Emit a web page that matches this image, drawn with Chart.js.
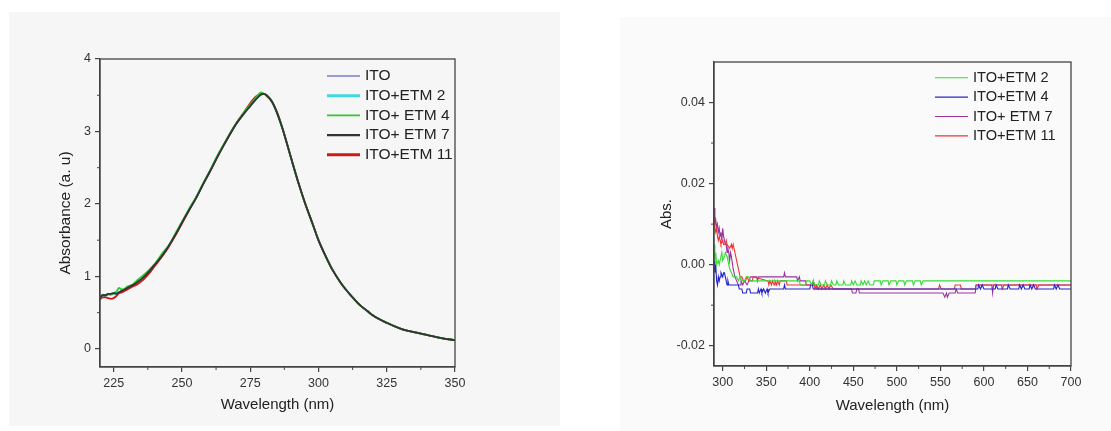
<!DOCTYPE html>
<html>
<head>
<meta charset="utf-8">
<script src="https://cdn.jsdelivr.net/npm/chart.js@4.4.1/dist/chart.umd.min.js"></script>
<style>
  html, body { margin: 0; padding: 0; background: #fff; }
  #wrap { position: relative; width: 1111px; height: 431px; overflow: hidden; }
  #leftChart { position: absolute; left: 0; top: 0; }
  #rightChart { position: absolute; left: 560px; top: 0; }
</style>
</head>
<body>
<div id="wrap">
  <canvas id="leftChart" width="560" height="431"></canvas>
  <canvas id="rightChart" width="551" height="431"></canvas>
</div>
<script>
// ---- left panel: absorbance spectra ----
const leftWavelength = [220,221,222,223,224,225,226,227,228,229,230,232,234,236,238,240,243,245,248,250,253,255,258,260,263,265,268,270,273,275,277,279,280,281,283,285,287,290,293,295,298,300,303,305,308,310,313,315,318,320,325,330,335,340,345,350];
const itoAbs   = [0.70,0.74,0.73,0.75,0.75,0.76,0.76,0.78,0.80,0.82,0.84,0.88,0.93,0.99,1.07,1.16,1.30,1.41,1.60,1.74,1.94,2.07,2.29,2.43,2.65,2.79,2.99,3.11,3.26,3.35,3.44,3.51,3.52,3.50,3.41,3.24,3.02,2.63,2.25,2.02,1.71,1.50,1.25,1.10,0.92,0.82,0.69,0.61,0.52,0.46,0.36,0.28,0.23,0.19,0.15,0.12];
const etm2Abs  = [0.70,0.74,0.73,0.75,0.75,0.76,0.77,0.78,0.80,0.82,0.84,0.88,0.93,0.99,1.07,1.16,1.30,1.41,1.60,1.74,1.94,2.07,2.29,2.43,2.65,2.79,2.99,3.11,3.26,3.35,3.44,3.51,3.52,3.50,3.41,3.24,3.02,2.63,2.25,2.02,1.71,1.50,1.25,1.10,0.92,0.82,0.69,0.61,0.52,0.46,0.36,0.28,0.23,0.19,0.15,0.12];
const etm4Abs  = [0.72,0.75,0.74,0.76,0.75,0.77,0.79,0.84,0.82,0.83,0.86,0.89,0.96,1.02,1.09,1.17,1.33,1.42,1.62,1.75,1.96,2.08,2.30,2.44,2.67,2.80,3.00,3.12,3.28,3.37,3.46,3.54,3.52,3.50,3.41,3.24,3.02,2.63,2.25,2.02,1.71,1.50,1.25,1.10,0.92,0.82,0.69,0.61,0.52,0.46,0.36,0.28,0.23,0.19,0.15,0.12];
const etm7Abs  = [0.71,0.74,0.74,0.76,0.76,0.77,0.76,0.78,0.80,0.82,0.84,0.88,0.93,0.99,1.07,1.16,1.30,1.41,1.60,1.74,1.94,2.07,2.29,2.43,2.65,2.79,2.99,3.11,3.26,3.35,3.44,3.51,3.52,3.50,3.41,3.24,3.02,2.63,2.25,2.02,1.71,1.50,1.25,1.10,0.92,0.82,0.69,0.61,0.52,0.46,0.36,0.28,0.23,0.19,0.15,0.12];
const etm11Abs = [0.68,0.71,0.71,0.70,0.69,0.70,0.73,0.77,0.78,0.80,0.82,0.86,0.90,0.96,1.04,1.14,1.29,1.40,1.59,1.73,1.94,2.07,2.29,2.43,2.65,2.79,2.99,3.12,3.28,3.39,3.48,3.52,3.52,3.49,3.41,3.25,3.02,2.63,2.25,2.02,1.71,1.50,1.25,1.10,0.92,0.82,0.69,0.61,0.52,0.46,0.36,0.28,0.23,0.19,0.15,0.12];
const leftXTicks = [225, 250, 275, 300, 325, 350];
const leftYTicks = [0, 1, 2, 3, 4];

// ---- right panel: difference spectra ----
const rEtm2Wl  = [290,291,292,293,295,296,297,299,300,302,303,305,306,308,310,312,316,318,320,322,325,327,330,332,388,389,395,396,400,402,404,406,410,411,413,417,418,420,424,425,427,430,431,433,438,439,441,447,448,450,452,454,458,459,461,463,465,467,469,473,474,481,482,484,490,491,493,499,500,502,508,509,511,518,519,521,527,528,530,700];
const rEtm2Abs = [0.005,0.001,0.003,0.000,0.001,0.000,0.001,0.003,0.001,0.002,0.003,0.002,0.001,-0.001,-0.002,-0.003,-0.003,-0.004,-0.003,-0.004,-0.004,-0.003,-0.003,-0.004,-0.004,-0.005,-0.005,-0.004,-0.004,-0.005,-0.004,-0.005,-0.005,-0.004,-0.005,-0.005,-0.004,-0.005,-0.005,-0.004,-0.005,-0.005,-0.004,-0.005,-0.005,-0.004,-0.005,-0.005,-0.004,-0.005,-0.004,-0.005,-0.005,-0.004,-0.005,-0.004,-0.005,-0.004,-0.005,-0.005,-0.004,-0.004,-0.005,-0.004,-0.004,-0.005,-0.004,-0.004,-0.005,-0.004,-0.004,-0.005,-0.004,-0.004,-0.005,-0.004,-0.004,-0.005,-0.004,-0.004];
const rEtm4Wl  = [290,291,292,293,294,295,296,297,298,300,301,302,303,304,305,306,307,318,319,322,323,327,328,331,332,340,341,342,344,345,347,349,351,352,354,370,371,372,400,401,403,404,593,594,596,598,600,613,614,616,627,628,630,640,641,643,645,647,652,653,655,657,659,680,681,683,685,687,700];
const rEtm4Abs = [0.001,-0.002,0.000,-0.004,-0.005,-0.003,-0.004,-0.003,-0.002,-0.003,-0.002,-0.002,-0.003,-0.004,-0.005,-0.004,-0.005,-0.005,-0.006,-0.006,-0.007,-0.007,-0.006,-0.006,-0.007,-0.007,-0.006,-0.007,-0.006,-0.007,-0.006,-0.007,-0.006,-0.007,-0.006,-0.006,-0.005,-0.006,-0.006,-0.005,-0.005,-0.006,-0.006,-0.005,-0.006,-0.005,-0.006,-0.006,-0.005,-0.006,-0.006,-0.005,-0.006,-0.006,-0.005,-0.006,-0.005,-0.006,-0.006,-0.005,-0.006,-0.005,-0.006,-0.006,-0.005,-0.006,-0.005,-0.006,-0.006];
const rEtm7Wl  = [290,291,292,293,294,295,296,297,298,299,300,301,302,303,304,305,306,307,308,309,310,312,314,316,318,320,321,323,325,328,330,332,339,340,341,370,371,372,385,386,388,389,395,396,403,404,405,407,408,448,449,453,454,456,457,553,555,557,558,560,567,568,570,590,591,609,610,611,700];
const rEtm7Abs = [0.014,0.010,0.011,0.009,0.010,0.008,0.009,0.007,0.008,0.006,0.009,0.007,0.006,0.005,0.005,0.003,0.004,0.003,0.001,0.003,0.002,-0.001,-0.003,-0.004,-0.005,-0.005,-0.004,-0.005,-0.004,-0.005,-0.004,-0.003,-0.003,-0.004,-0.003,-0.003,-0.002,-0.003,-0.003,-0.004,-0.003,-0.004,-0.004,-0.005,-0.005,-0.004,-0.005,-0.005,-0.006,-0.006,-0.007,-0.007,-0.006,-0.006,-0.007,-0.007,-0.008,-0.007,-0.008,-0.007,-0.007,-0.006,-0.007,-0.007,-0.005,-0.005,-0.007,-0.005,-0.005];
const rEtm11Wl  = [290,291,292,293,294,295,296,297,298,300,301,303,304,305,308,310,311,312,314,316,318,320,322,324,326,328,330,334,335,352,353,354,356,357,359,360,362,363,365,366,373,374,405,406,408,410,412,414,416,418,420,422,424,427,548,549,551,566,567,573,574,590,591,620,621,623,660,661,663,700];
const rEtm11Abs = [0.011,0.009,0.008,0.009,0.007,0.006,0.007,0.006,0.005,0.006,0.005,0.005,0.006,0.005,0.004,0.005,0.004,0.005,0.003,0.001,-0.001,-0.003,-0.003,-0.004,-0.004,-0.003,-0.004,-0.004,-0.003,-0.004,-0.005,-0.004,-0.005,-0.004,-0.005,-0.004,-0.005,-0.004,-0.005,-0.004,-0.004,-0.005,-0.005,-0.006,-0.005,-0.006,-0.005,-0.006,-0.005,-0.006,-0.005,-0.006,-0.005,-0.006,-0.006,-0.005,-0.006,-0.006,-0.005,-0.005,-0.006,-0.006,-0.005,-0.005,-0.006,-0.005,-0.005,-0.006,-0.005,-0.005];
const rightXTicks = [300, 350, 400, 450, 500, 550, 600, 650, 700];
const rightYTicks = [-0.02, 0, 0.02, 0.04];

const axisColor = '#444';
const textColor = '#222';
Chart.defaults.font.family = '"Liberation Sans", Arial, sans-serif';
Chart.defaults.color = textColor;

function pts(xs, ys) {
    return xs.map((x, i) => ({ x: x, y: ys[i] }));
}

// flat panel background behind each figure
const panelBg = {
    id: 'panelBg',
    beforeDraw(chart, args, o) {
        const ctx = chart.ctx;
        ctx.save();
        ctx.fillStyle = o.color;
        ctx.fillRect(o.x, o.y, o.w, o.h);
        ctx.restore();
    }
};

// closed box around the plot + short minor ticks halfway between majors
const frameBox = {
    id: 'frameBox',
    afterDraw(chart, args, o) {
        const { ctx, chartArea: a } = chart;
        ctx.save();
        ctx.strokeStyle = axisColor;
        ctx.lineWidth = 1.3;
        ctx.strokeRect(a.left, a.top, a.right - a.left, a.bottom - a.top);
        ctx.lineWidth = 1;
        const xs = chart.scales.x, ys = chart.scales.y;
        const mids = s => s.ticks.slice(1).map((t, i) => (t.value + s.ticks[i].value) / 2)
            .filter(v => v > s.min && v < s.max);
        ctx.beginPath();
        mids(xs).forEach(v => {
            const px = xs.getPixelForValue(v);
            ctx.moveTo(px, a.bottom); ctx.lineTo(px, a.bottom + 3);
        });
        mids(ys).forEach(v => {
            const py = ys.getPixelForValue(v);
            ctx.moveTo(a.left, py); ctx.lineTo(a.left - 3, py);
        });
        ctx.stroke();
        ctx.restore();
    }
};

// legend drawn as short line + label inside the plot
const lineLegend = {
    id: 'lineLegend',
    afterDraw(chart, args, o) {
        const ctx = chart.ctx;
        ctx.save();
        ctx.font = o.font;
        ctx.fillStyle = textColor;
        ctx.textBaseline = 'middle';
        chart.data.datasets.forEach((ds, row) => {
            const y = o.y + row * o.rowH;
            ctx.strokeStyle = ds.borderColor;
            ctx.lineWidth = ds.legendWidth || ds.borderWidth;
            ctx.beginPath();
            ctx.moveTo(o.x, y);
            ctx.lineTo(o.x + o.lineLen, y);
            ctx.stroke();
            ctx.fillText(ds.label, o.x + o.lineLen + o.gap, y);
        });
        ctx.restore();
    }
};

function makeAxis(min, max, tickList, title, titleSize, fit, fmt) {
    const ax = {
        type: 'linear',
        min: min,
        max: max,
        afterBuildTicks: s => { s.ticks = tickList.map(v => ({ value: v })); },
        afterFit: fit,
        grid: { drawOnChartArea: false, tickLength: 5, color: axisColor, lineWidth: 1.2 },
        border: { display: true, color: axisColor, width: 1.3 },
        ticks: { padding: 4, color: '#333', font: { size: 12.5 }, maxRotation: 0, autoSkip: false },
        title: { display: true, text: title, color: textColor, font: { size: titleSize } }
    };
    if (fmt) ax.ticks.callback = fmt;
    return ax;
}

new Chart(document.getElementById('leftChart'), {
    type: 'line',
    data: {
        datasets: [
            { label: 'ITO', data: pts(leftWavelength, itoAbs), borderColor: '#7c7cc4', borderWidth: 1.5, order: 4 },
            { label: 'ITO+ETM 2', data: pts(leftWavelength, etm2Abs), borderColor: '#3fd8e2', borderWidth: 2, legendWidth: 3, order: 3 },
            { label: 'ITO+ ETM 4', data: pts(leftWavelength, etm4Abs), borderColor: '#2fc82f', borderWidth: 1.8, order: 1 },
            { label: 'ITO+ ETM 7', data: pts(leftWavelength, etm7Abs), borderColor: '#333333', borderWidth: 1.8, legendWidth: 2.2, order: 0 },
            { label: 'ITO+ETM 11', data: pts(leftWavelength, etm11Abs), borderColor: '#d01818', borderWidth: 1.8, legendWidth: 3, order: 2 }
        ]
    },
    options: {
        responsive: false,
        animation: false,
        events: [],
        layout: { padding: { left: 52, top: 59, right: 105, bottom: 13 } },
        elements: { point: { radius: 0 }, line: { cubicInterpolationMode: 'monotone' } },
        plugins: {
            legend: { display: false },
            tooltip: { enabled: false },
            panelBg: { x: 9, y: 12, w: 551, h: 414, color: '#f6f6f6' },
            lineLegend: { x: 327, y: 76, rowH: 19.7, lineLen: 33, gap: 5, font: '15.5px "Liberation Sans", Arial, sans-serif' }
        },
        scales: {
            x: makeAxis(220, 350, leftXTicks, 'Wavelength (nm)', 15, s => { s.height = 51; }),
            y: makeAxis(-0.25, 4, leftYTicks, 'Absorbance (a. u)', 15.5, s => { s.width = 48; })
        }
    },
    plugins: [panelBg, frameBox, lineLegend]
});

new Chart(document.getElementById('rightChart'), {
    type: 'line',
    data: {
        datasets: [
            { label: 'ITO+ETM 2', data: pts(rEtm2Wl, rEtm2Abs), borderColor: '#35dd35', borderWidth: 1.1, order: 0 },
            { label: 'ITO+ETM 4', data: pts(rEtm4Wl, rEtm4Abs), borderColor: '#2424cc', borderWidth: 1.1, order: 1 },
            { label: 'ITO+ ETM 7', data: pts(rEtm7Wl, rEtm7Abs), borderColor: '#9a349e', borderWidth: 1.1, order: 3 },
            { label: 'ITO+ETM 11', data: pts(rEtm11Wl, rEtm11Abs), borderColor: '#ee3434', borderWidth: 1.1, order: 2 }
        ]
    },
    options: {
        responsive: false,
        animation: false,
        events: [],
        layout: { padding: { left: 94, top: 62, right: 40, bottom: 12 } },
        elements: { point: { radius: 0 }, line: { tension: 0 } },
        plugins: {
            legend: { display: false },
            tooltip: { enabled: false },
            panelBg: { x: 60, y: 17, w: 491, h: 414, color: '#fafafa' },
            lineLegend: { x: 375, y: 77.7, rowH: 19.4, lineLen: 33, gap: 5, font: '14.6px "Liberation Sans", Arial, sans-serif' }
        },
        scales: {
            x: makeAxis(290, 700, rightXTicks, 'Wavelength (nm)', 15, s => { s.height = 53; }),
            y: makeAxis(-0.025, 0.05, rightYTicks, 'Abs.', 15, s => { s.width = 60; }, v => v.toFixed(2))
        }
    },
    plugins: [panelBg, frameBox, lineLegend]
});
</script>
</body>
</html>
